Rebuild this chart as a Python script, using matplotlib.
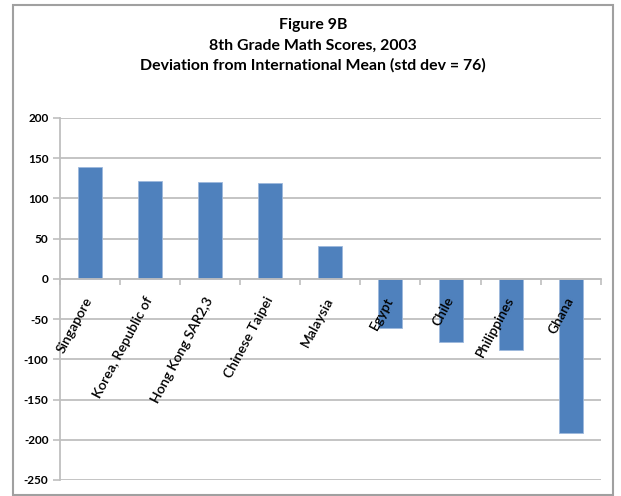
import matplotlib
matplotlib.use("Agg")
import matplotlib.pyplot as plt
from matplotlib.patches import Rectangle
import matplotlib.transforms as mtransforms
import numpy as np

countries = ["Singapore", "Korea, Republic of", "Hong Kong SAR2,3", "Chinese Taipei",
             "Malaysia", "Egypt", "Chile", "Philippines", "Ghana"]
deviation = [139, 122, 120, 119, 41, -61, -79, -88, -191]
yticks = [200, 150, 100, 50, 0, -50, -100, -150, -200, -250]
title_lines = ["Figure 9B", "8th Grade Math Scores, 2003",
               "Deviation from International Mean (std dev = 76)"]

plt.rcParams['font.family'] = ['Lato', 'DejaVu Sans']

fig = plt.figure(figsize=(6.21, 4.96), dpi=100)
W, H = 621, 496
ax = fig.add_axes([59.5 / W, 1 - 480 / H, (601 - 59.5) / W, (480 - 118) / H])

grid_c = "#BFBFBF"
x = np.arange(len(countries))
ax.bar(x, deviation, width=0.4, color="#4F81BD", edgecolor="#9DB8DC", linewidth=0.6, zorder=3)

ax.set_xlim(-0.5, len(countries) - 0.5)
ax.set_ylim(-250, 200)
ax.set_yticks(yticks)
ax.set_yticklabels([str(v) for v in yticks], fontsize=8.5, fontweight='bold')
ax.yaxis.grid(True, color=grid_c, linewidth=1.3, zorder=0)
ax.tick_params(axis='y', length=5, color=grid_c, width=1.2, pad=3)

for s in ['top', 'right']:
    ax.spines[s].set_visible(False)
ax.spines['left'].set_color(grid_c)
ax.spines['left'].set_linewidth(1.3)
ax.spines['bottom'].set_position(('data', 0))
ax.spines['bottom'].set_color(grid_c)
ax.spines['bottom'].set_linewidth(1.3)
ax.spines['bottom'].set_zorder(4)

ax.set_xticks(np.arange(len(countries) + 1) - 0.5)
ax.set_xticklabels([])
ax.tick_params(axis='x', which='major', length=4, color=grid_c, width=1.2, direction='out')

offset = mtransforms.ScaledTranslation(5 / 100, -16 / 100, fig.dpi_scale_trans)
trans = ax.transData + offset
for xi, name in zip(x, countries):
    ax.text(xi, 0, name, transform=trans, rotation=62, ha='right', va='top',
            fontsize=10, fontweight='semibold', color='black', zorder=6)

ys = [25, 46, 65]
for t, yy in zip(title_lines, ys):
    fig.text(313 / W, 1 - yy / H, t, ha='center', va='center', fontsize=11.4, fontweight='bold')

fig.patches.append(Rectangle((13 / W, 1 - 495 / H), (613 - 13) / W, (495 - 5) / H,
                             transform=fig.transFigure, fill=False, edgecolor="#A0A0A0",
                             linewidth=1.5))

fig.savefig("out.png", dpi=100)
